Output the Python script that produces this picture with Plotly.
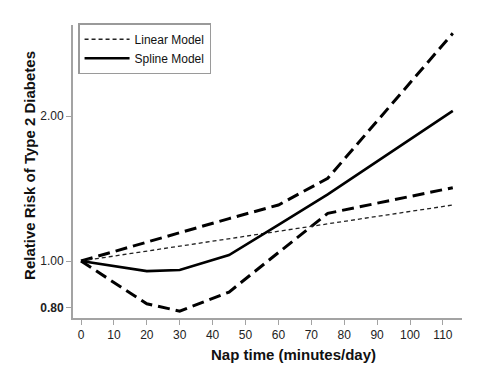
import plotly.graph_objects as go

# Data
minutes = [0, 20, 30, 45, 60, 75, 113]
spline_rr = [1.00, 0.953, 0.958, 1.029, 1.188, 1.375, 2.05]
lower_ci = [1.00, 0.815, 0.787, 0.862, 1.041, 1.256, 1.42]
upper_ci = [1.00, 1.095, 1.145, 1.225, 1.307, 1.485, 2.97]
linear_minutes = [0, 113]
linear_rr = [1.00, 1.307]

x_ticks = [0, 10, 20, 30, 40, 50, 60, 70, 80, 90, 100, 110]
y_ticks = [0.80, 1.00, 2.00]
y_ticklabels = ["<b>0.80</b>", "1.00", "2.00"]

FONT = "Arial, 'Liberation Sans', sans-serif"
AXIS_GREY = "#a3a3a3"

fig = go.Figure()

fig.add_trace(go.Scatter(x=minutes, y=upper_ci, mode="lines", showlegend=False,
                         line=dict(color="black", width=3, dash="12px,6px")))
fig.add_trace(go.Scatter(x=minutes, y=lower_ci, mode="lines", showlegend=False,
                         line=dict(color="black", width=3, dash="12px,6px")))
fig.add_trace(go.Scatter(x=linear_minutes, y=linear_rr, mode="lines", name="Linear Model",
                         line=dict(color="#222222", width=1.3, dash="4px,3px")))
fig.add_trace(go.Scatter(x=minutes, y=spline_rr, mode="lines", name="Spline Model",
                         line=dict(color="black", width=2.6)))

fig.update_layout(
    width=494, height=368,
    margin=dict(l=73, r=32, t=25, b=50),
    paper_bgcolor="white", plot_bgcolor="white",
    font=dict(family=FONT, size=12, color="#222222"),
    legend=dict(x=0.013, y=1.006, xanchor="left", yanchor="top",
                bordercolor="#9a9a9a", borderwidth=1.5, bgcolor="white",
                itemwidth=45,
                font=dict(size=12, color="#111111"), tracegroupgap=0),
    xaxis=dict(range=[-2.43, 115.8], tickvals=x_ticks, showgrid=False, zeroline=False,
               showline=True, linecolor=AXIS_GREY, linewidth=2,
               ticks="outside", ticklen=5, tickcolor=AXIS_GREY, tickwidth=1,
               tickfont=dict(size=12, color="#222222")),
    yaxis=dict(type="log", range=[-0.1183, 0.490], tickvals=y_ticks, ticktext=y_ticklabels,
               showgrid=False, zeroline=False,
               showline=True, linecolor=AXIS_GREY, linewidth=2,
               ticks="outside", ticklen=5, tickcolor=AXIS_GREY, tickwidth=1,
               tickfont=dict(size=12, color="#222222")),
    annotations=[
        dict(text="<b>Nap time (minutes/day)</b>", xref="paper", yref="paper",
             x=0.568, y=-0.123, xanchor="center", yanchor="middle", showarrow=False,
             font=dict(size=15, color="#111111")),
        dict(text="<b>Relative Risk of Type 2 Diabetes</b>", xref="paper", yref="paper",
             x=-0.1105, y=0.519, xanchor="center", yanchor="middle", showarrow=False,
             textangle=-90, font=dict(size=15, color="#111111")),
    ],
)

fig.write_html("out.html", config={"displayModeBar": False},
               post_script="document.body.style.margin='0';document.body.style.overflow='hidden';")
